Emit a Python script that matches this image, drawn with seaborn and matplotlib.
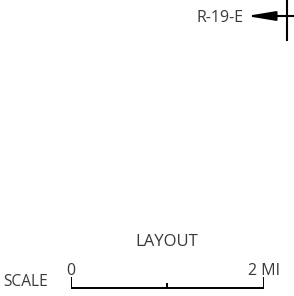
import matplotlib
matplotlib.use("Agg")
import matplotlib.pyplot as plt
import seaborn as sns

sns.set_style("white")
plt.rcParams['font.family'] = ['Open Sans', 'DejaVu Sans']

# --- data ---
range_label = "R-19-E"
title = "LAYOUT"
scale_word = "SCALE"
scale_miles = [0, 2]          # scale bar extent in miles
scale_ticks = [0, 1, 2]       # tick positions in miles
scale_labels = ["0", "", "2 MI"]
tick_heights = [1.0, 0.5, 1.0]

text_color = "#3a3a3a"
W, H = 294, 296

fig = plt.figure(figsize=(W / 100, H / 100), dpi=100)

# full-figure pixel axes for the sheet furniture
ax = fig.add_axes([0, 0, 1, 1])
ax.set_xlim(0, W)
ax.set_ylim(H, 0)
ax.axis("off")

# corner marker with range label
ax.plot([287.3, 287.3], [0, 40.6], color="black", lw=1.5, solid_capstyle="butt")
ax.annotate("", xy=(246.5, 16), xytext=(W, 16),
            arrowprops=dict(arrowstyle="-|>,head_length=1.7,head_width=0.28",
                            color="black", lw=1.5, shrinkA=0, shrinkB=0))
ax.text(243.5, 17.5, range_label, ha="right", va="center", fontsize=11.5, color=text_color)

ax.text(166.5, 241.5, title, ha="center", va="center", fontsize=12, color=text_color)
ax.text(3, 282.5, scale_word, ha="left", va="center", fontsize=11.2, color=text_color)

# scale bar axes, in miles
sax = fig.add_axes([71 / W, 1 - 289 / H, 192.5 / W, 12 / H])
sax.axis("off")
sns.lineplot(x=scale_miles, y=[0, 0], ax=sax, color="black", lw=1.4, estimator=None)
sax.vlines(scale_ticks, 0, tick_heights, color="black", lw=1.4)
sax.set_xlim(scale_miles[0], scale_miles[1])
sax.set_ylim(-0.08, 1.0)
sax.margins(0)
for t, lab in zip(scale_ticks, scale_labels):
    if lab:
        sax.text(t, 1.55, lab, ha="center", va="center", fontsize=11.5,
                 color=text_color, clip_on=False)

fig.savefig("out.png", dpi=100)
